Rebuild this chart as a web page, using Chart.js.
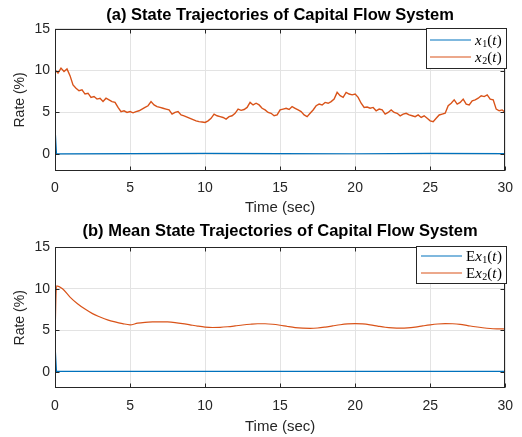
<!DOCTYPE html>
<html>
<head>
<meta charset="utf-8">
<script src="https://cdn.jsdelivr.net/npm/chart.js@4.4.0/dist/chart.umd.min.js"></script>
<style>
  body { margin: 0; background: #fff; }
  #wrapA { position: absolute; left: 0; top: 0; width: 522px; height: 218px; }
  #wrapB { position: absolute; left: 0; top: 218px; width: 522px; height: 219px; }
</style>
</head>
<body>
<div id="wrapA"><canvas id="chartA"></canvas></div>
<div id="wrapB"><canvas id="chartB"></canvas></div>
<script>
'use strict';

// axis ticks
var xTicks = [0, 5, 10, 15, 20, 25, 30];
var yTicks = [0, 5, 10, 15];

// (a) sample paths
var sampleStep = 0.2;
var x2Start = 4.4;
var x2 = [
  10.1, 9.7, 10.3, 9.9, 10.2, 9.4,
  8.3, 7.9, 7.6, 7.7, 7.2,
  7.3, 6.8, 6.9, 6.6, 6.7,
  6.3, 6.7, 6.5, 6.3, 6.2,
  5.6, 5.1, 5.2, 5.0, 5.1,
  4.95, 5.1, 5.2, 5.4, 5.6,
  5.8, 6.3, 5.9, 5.7, 5.6,
  5.5, 5.4, 5.3, 4.8, 5.0,
  5.1, 4.7, 4.6, 4.45, 4.3,
  4.15, 4.0, 3.9, 3.85, 3.8,
  4.0, 4.3, 4.8, 4.6, 4.5,
  4.4, 4.2, 4.5, 4.6, 4.9,
  5.4, 5.25, 5.35, 5.6, 6.2,
  5.9, 6.1, 5.9, 5.5, 5.3,
  5.0, 4.9, 4.6, 4.7, 5.3,
  5.4, 5.5, 5.35, 5.7, 5.5,
  5.3, 5.1, 4.7, 4.5, 4.9,
  5.3, 5.8, 6.0, 5.9, 6.2,
  6.1, 6.3, 6.6, 7.4, 7.0,
  6.8, 7.4, 7.2, 7.1, 7.2,
  6.8, 6.1, 5.6, 5.65, 5.5,
  5.6, 5.2, 5.4, 5.3, 4.8,
  5.0, 5.3, 5.0, 4.9, 4.6,
  4.8, 4.9, 4.7, 4.6, 4.5,
  4.7, 4.4, 4.6, 4.3, 4.0,
  3.9, 4.3, 4.7, 4.8, 4.9,
  5.8, 6.1, 6.5, 6.0, 6.2,
  6.6, 6.0, 5.9, 6.4, 6.5,
  6.7, 7.0, 6.9, 7.1, 6.6,
  6.5, 5.4, 5.2, 5.3, 5.0
];
var x1Times = [0, 0.1, 5, 10, 15, 20, 25, 30];
var x1 = [3.3, 0.05, 0.08, 0.1, 0.08, 0.06, 0.1, 0.07];

// (b) mean paths
var exTimes = [0, 0.1, 0.5, 1, 1.5, 2, 2.5, 3, 3.5, 4, 4.5, 5, 5.5, 6, 6.5, 7, 7.5, 8, 8.5, 9, 9.5, 10,
  10.5, 11, 11.5, 12, 12.5, 13, 13.5, 14, 14.5, 15, 15.5, 16, 16.5, 17, 17.5, 18, 18.5, 19, 19.5, 20,
  20.5, 21, 21.5, 22, 22.5, 23, 23.5, 24, 24.5, 25, 25.5, 26, 26.5, 27, 27.5, 28, 28.5, 29, 29.5, 30];
var ex2 = [4.2, 10.35,
  10.0, 9.0, 8.2, 7.55, 7.0, 6.6, 6.25, 6.0, 5.8, 5.65,
  5.85, 5.95, 6.0, 6.02, 6.0, 5.92, 5.8, 5.65, 5.5, 5.38,
  5.33, 5.35, 5.42, 5.52, 5.63, 5.72, 5.78, 5.78, 5.72, 5.6,
  5.45, 5.32, 5.25, 5.23, 5.27, 5.38, 5.52, 5.66, 5.76, 5.8,
  5.76, 5.65, 5.5, 5.36, 5.28, 5.25, 5.28, 5.38, 5.52, 5.65,
  5.75, 5.8, 5.78, 5.7, 5.56, 5.42, 5.3, 5.21, 5.17, 5.15];
var ex1Times = [0, 0.1, 10, 20, 30];
var ex1 = [3.3, 0.03, 0.05, 0.05, 0.05];

var BLUE = '#0072BD';
var ORANGE = '#D95319';
var INK = '#262626';
var SANS = '"Liberation Sans", Arial, Helvetica, sans-serif';
var SERIF = '"Liberation Serif", "DejaVu Serif", serif';

function pairs(times, vals) {
  return vals.map(function(v, i) { return {x: times[i], y: v}; });
}

var x2Points = [{x: 0, y: x2Start}].concat(x2.map(function(v, i) {
  return {x: +(i * sampleStep).toFixed(2), y: v};
}));

// draws the axes box with inward ticks
var boxPlugin = {
  id: 'axesBox',
  afterDatasetsDraw: function(chart) {
    var ctx = chart.ctx, a = chart.chartArea;
    var l = Math.round(a.left) + 0.5, r = Math.round(a.right) - 0.5;
    var t = Math.round(a.top) + 0.5, b = Math.round(a.bottom) - 0.5;
    ctx.save();
    ctx.strokeStyle = INK;
    ctx.lineWidth = 1;
    ctx.strokeRect(l, t, r - l, b - t);
    ctx.beginPath();
    xTicks.forEach(function(v) {
      var px = Math.round(chart.scales.x.getPixelForValue(v)) + 0.5;
      ctx.moveTo(px, b); ctx.lineTo(px, b - 4);
      ctx.moveTo(px, t); ctx.lineTo(px, t + 4);
    });
    yTicks.forEach(function(v) {
      var py = Math.round(chart.scales.y.getPixelForValue(v)) + 0.5;
      ctx.moveTo(l, py); ctx.lineTo(l + 4, py);
      ctx.moveTo(r, py); ctx.lineTo(r - 4, py);
    });
    ctx.stroke();
    ctx.restore();
  }
};

// MATLAB-like legend box with latex-ish labels
var mathLegend = {
  id: 'mathLegend',
  afterDraw: function(chart, args, opts) {
    if (!opts || !opts.box) return;
    var ctx = chart.ctx, bx = opts.box;
    ctx.save();
    ctx.fillStyle = '#fff';
    ctx.fillRect(bx.x, bx.y, bx.w, bx.h);
    ctx.strokeStyle = INK;
    ctx.lineWidth = 1;
    ctx.strokeRect(bx.x + 0.5, bx.y + 0.5, bx.w, bx.h);
    chart.data.datasets.forEach(function(ds, i) {
      var y = opts.rows[i];
      ctx.strokeStyle = ds.borderColor;
      ctx.lineWidth = 1.2;
      ctx.beginPath();
      ctx.moveTo(opts.lineX0, y);
      ctx.lineTo(opts.lineX1, y);
      ctx.stroke();
      var x = opts.textX;
      ctx.fillStyle = '#000';
      ctx.textBaseline = 'alphabetic';
      ds.labelParts.forEach(function(p) {
        var size = p.s === 'sub' ? 10 : 15;
        var style = p.s === 'it' ? 'italic ' : '';
        ctx.font = style + size + 'px ' + SERIF;
        ctx.fillText(p.t, x, p.s === 'sub' ? y + 7 : y + 5);
        x += ctx.measureText(p.t).width + (p.s === 'it' ? 0.5 : 0);
      });
    });
    ctx.restore();
  }
};

function makeScales(xHeight) {
  return {
    x: {
      type: 'linear', min: 0, max: 30,
      afterBuildTicks: function(s) { s.ticks = xTicks.map(function(v) { return {value: v}; }); },
      ticks: { color: INK, padding: 9, maxRotation: 0, font: {family: SANS, size: 14} },
      grid: { color: '#e3e3e3', drawTicks: false },
      border: { display: false },
      title: { display: true, text: 'Time (sec)', color: INK, font: {family: SANS, size: 15}, padding: {top: 0, bottom: 1} },
      afterFit: function(s) { s.height = xHeight; }
    },
    y: {
      min: -2, max: 15,
      afterBuildTicks: function(s) { s.ticks = yTicks.map(function(v) { return {value: v}; }); },
      ticks: { color: INK, padding: 5, font: {family: SANS, size: 14} },
      grid: { color: '#e3e3e3', drawTicks: false },
      border: { display: false },
      title: { display: true, text: 'Rate (%)', color: INK, font: {family: SANS, size: 14}, padding: {top: 12, bottom: 0} },
      afterFit: function(s) { s.width = 55; }
    }
  };
}

function makeChart(id, title, titlePad, xHeight, datasets, legendOpts) {
  return new Chart(document.getElementById(id), {
    type: 'line',
    data: { datasets: datasets },
    options: {
      responsive: true,
      maintainAspectRatio: false,
      animation: false,
      parsing: false,
      layout: { padding: {left: 0, right: 15, top: 0, bottom: 0} },
      elements: { point: { radius: 0 } },
      scales: makeScales(xHeight),
      plugins: {
        legend: { display: false },
        tooltip: { enabled: false },
        title: {
          display: true, text: title, color: '#000', fullSize: false,
          font: {family: SANS, size: 16.5, weight: 'bold'},
          padding: titlePad
        },
        mathLegend: legendOpts
      }
    },
    plugins: [boxPlugin, mathLegend]
  });
}

makeChart('chartA', '(a) State Trajectories of Capital Flow System', {top: 6, bottom: 3}, 47, [
  { label: 'x₁(t)', data: pairs(x1Times, x1), borderColor: BLUE, borderWidth: 1.2, tension: 0,
    labelParts: [{t: 'x', s: 'it'}, {t: '1', s: 'sub'}, {t: '(', s: 'up'}, {t: 't', s: 'it'}, {t: ')', s: 'up'}] },
  { label: 'x₂(t)', data: x2Points, borderColor: ORANGE, borderWidth: 1.4, tension: 0,
    labelParts: [{t: 'x', s: 'it'}, {t: '2', s: 'sub'}, {t: '(', s: 'up'}, {t: 't', s: 'it'}, {t: ')', s: 'up'}] }
], { box: {x: 426, y: 28, w: 80, h: 40}, rows: [40, 57], lineX0: 430, lineX1: 471, textX: 475 });

makeChart('chartB', '(b) Mean State Trajectories of Capital Flow System', {top: 4, bottom: 5.5}, 48.7, [
  { label: 'Ex₁(t)', data: pairs(ex1Times, ex1), borderColor: BLUE, borderWidth: 1.2, tension: 0,
    labelParts: [{t: 'E', s: 'up'}, {t: 'x', s: 'it'}, {t: '1', s: 'sub'}, {t: '(', s: 'up'}, {t: 't', s: 'it'}, {t: ')', s: 'up'}] },
  { label: 'Ex₂(t)', data: pairs(exTimes, ex2), borderColor: ORANGE, borderWidth: 1.2, cubicInterpolationMode: 'monotone',
    labelParts: [{t: 'E', s: 'up'}, {t: 'x', s: 'it'}, {t: '2', s: 'sub'}, {t: '(', s: 'up'}, {t: 't', s: 'it'}, {t: ')', s: 'up'}] }
], { box: {x: 416, y: 28, w: 90, h: 37}, rows: [38, 55], lineX0: 421, lineX1: 462, textX: 466 });
</script>
</body>
</html>
